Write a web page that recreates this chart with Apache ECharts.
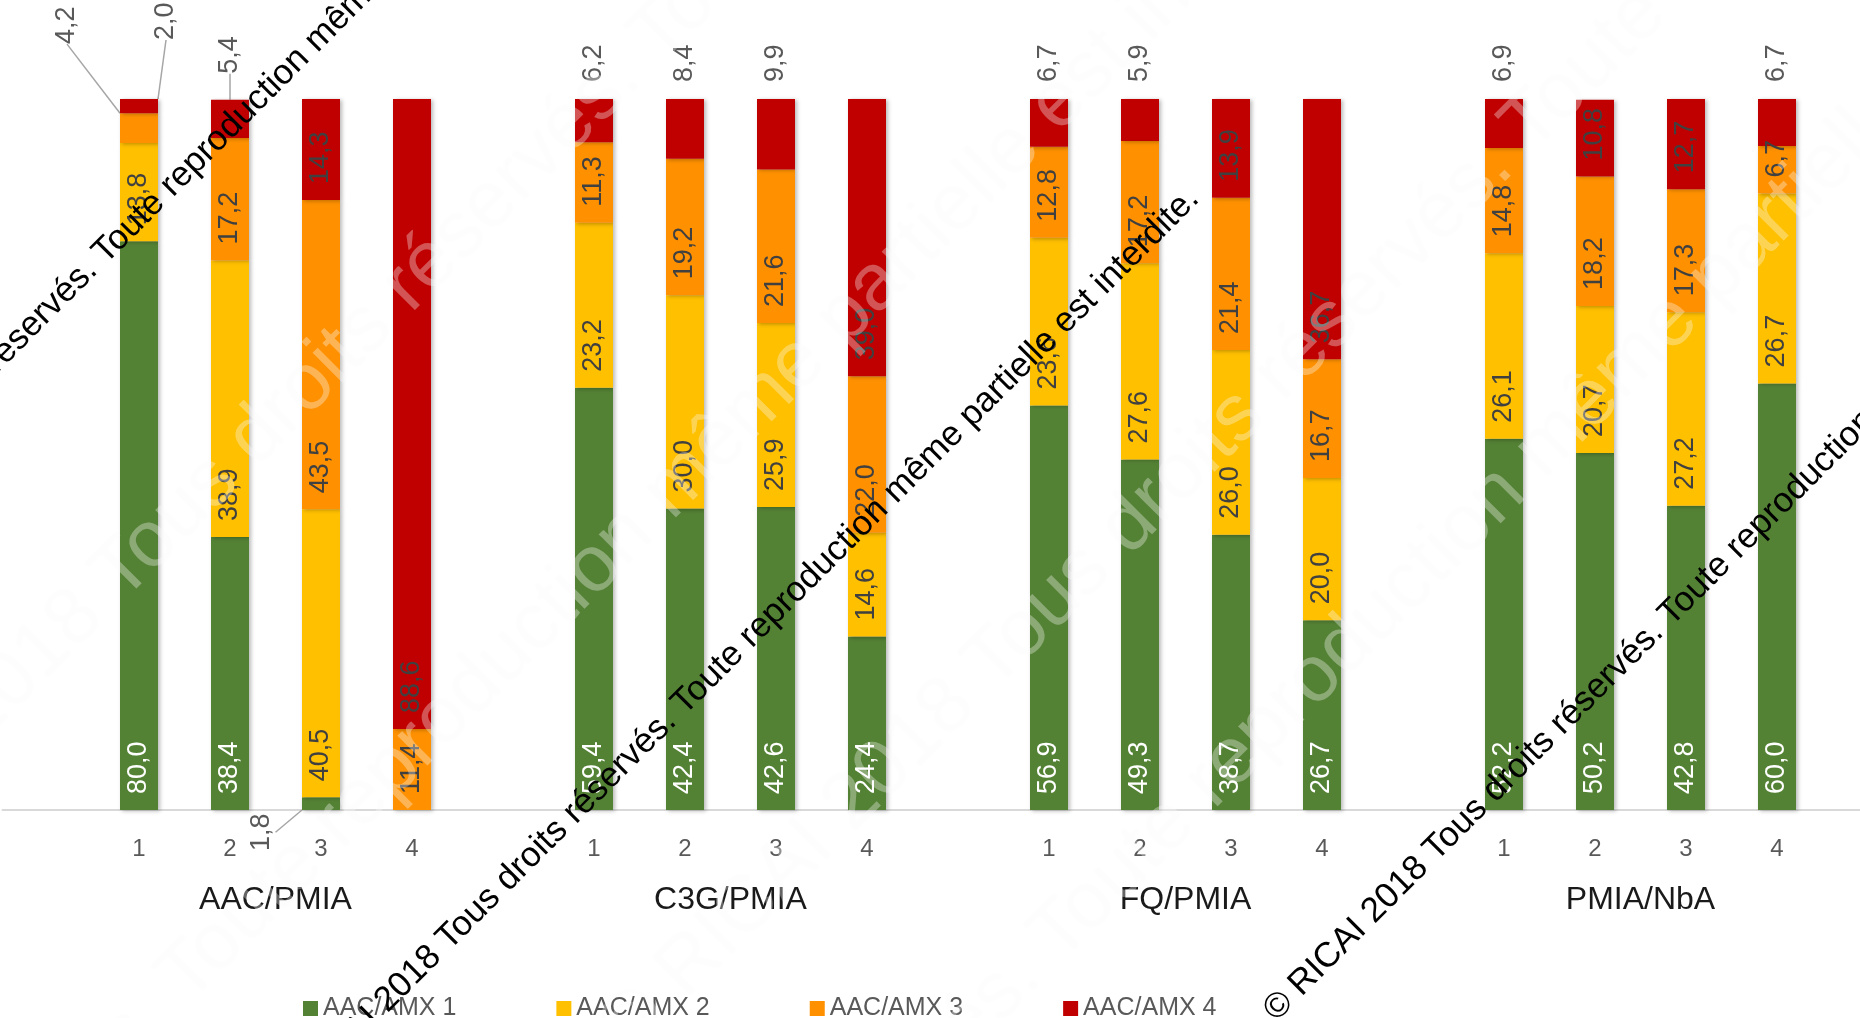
<!DOCTYPE html>
<html>
<head>
<meta charset="utf-8">
<script src="https://cdn.jsdelivr.net/npm/echarts@6/dist/echarts.min.js"></script>
<style>
  html, body { margin: 0; padding: 0; background: #ffffff; }
  #chart { width: 1860px; height: 1018px; }
</style>
</head>
<body>
<div id="chart"></div>
<script>
// Groups of combinations and their four sub-categories
const groups = ['AAC/PMIA', 'C3G/PMIA', 'FQ/PMIA', 'PMIA/NbA'];
const subCategories = ['1', '2', '3', '4'];
const seriesNames = ['AAC/AMX 1', 'AAC/AMX 2', 'AAC/AMX 3', 'AAC/AMX 4'];

// Percentages, in order: group 1 (1..4), group 2 (1..4), group 3 (1..4), group 4 (1..4)
const amx1 = [80.0, 38.4, 1.8, 0.0,   59.4, 42.4, 42.6, 24.4,   56.9, 49.3, 38.7, 26.7,   52.2, 50.2, 42.8, 60.0];
const amx2 = [13.8, 38.9, 40.5, 0.0,  23.2, 30.0, 25.9, 14.6,   23.6, 27.6, 26.0, 20.0,   26.1, 20.7, 27.2, 26.7];
const amx3 = [4.2, 17.2, 43.5, 11.4,  11.3, 19.2, 21.6, 22.0,   12.8, 17.2, 21.4, 16.7,   14.8, 18.2, 17.3, 6.7];
const amx4 = [2.0, 5.4, 14.3, 88.6,   6.2, 8.4, 9.9, 39.0,      6.7, 5.9, 13.9, 36.7,     6.9, 10.8, 12.7, 6.7];
const seriesValues = [amx1, amx2, amx3, amx4];

const colors = ['#548235', '#FFC000', '#FF9100', '#C00000'];

// Labels pulled away from their segment (screen offsets) and tied back with a guide line
const labelCallouts = [
  { series: 2, group: 0, sub: 0, sx: -72, sy: -83 },
  { series: 3, group: 0, sub: 0, sx: 27, sy: -42 },
  { series: 3, group: 0, sub: 1, sx: 0, sy: -9 },
  { series: 0, group: 0, sub: 2, sx: -59, sy: 57 }
];

const SLOTS_PER_GROUP = subCategories.length + 1;

// Category slots: an empty slot ahead of every group, plus one at the end
const slots = [];
groups.forEach((g, gi) => {
  slots.push('gap' + gi);
  subCategories.forEach(s => slots.push(g + '|' + s));
});
slots.push('gap' + groups.length);

// Boundary axis used only to centre the group names between bars 2 and 3
const boundaries = [];
const boundaryLabels = [];
for (let i = 0; i <= slots.length; i++) { boundaries.push('b' + i); boundaryLabels.push(''); }
groups.forEach((g, gi) => { boundaryLabels[gi * SLOTS_PER_GROUP + 3] = g; });

const slotIndex = (gi, si) => gi * SLOTS_PER_GROUP + 1 + si;
const fmt = v => v.toFixed(1).replace('.', ',');

function findCallout(series, dataIndex) {
  return labelCallouts.find(c => c.series === series && slotIndex(c.group, c.sub) === dataIndex);
}

function buildData(seriesIdx) {
  const arr = new Array(slots.length).fill(null);
  const vals = seriesValues[seriesIdx];
  groups.forEach((g, gi) => {
    subCategories.forEach((s, si) => {
      const v = vals[gi * subCategories.length + si];
      const idx = slotIndex(gi, si);
      const item = { value: v };
      if (v === 0) {
        item.label = { show: false };
      } else if (seriesIdx === 3 && v < 10) {
        item.label = { position: 'top', distance: 17, color: '#595959' };
      }
      if (findCallout(seriesIdx, idx)) {
        item.labelLine = { show: true };
        item.label = Object.assign({}, item.label || {}, { color: '#595959' });
      }
      arr[idx] = item;
    });
  });
  return arr;
}

const series = seriesNames.map((name, i) => ({
  name: name,
  type: 'bar',
  stack: 'total',
  barWidth: 38,
  data: buildData(i),
  itemStyle: {
    color: colors[i],
    shadowBlur: 4,
    shadowColor: 'rgba(0,0,0,0.28)',
    shadowOffsetX: 1.5,
    shadowOffsetY: 1
  },
  label: {
    show: true,
    position: 'insideBottom',
    distance: 16,
    rotate: 90,
    align: 'left',
    verticalAlign: 'middle',
    fontFamily: 'Liberation Sans',
    fontSize: 27,
    color: i === 0 ? '#ffffff' : '#404040',
    formatter: p => fmt(p.value)
  },
  labelLine: {
    show: false,
    lineStyle: { color: '#a6a6a6', width: 1.5 }
  },
  // label offsets act in the rotated label frame, so turn screen offsets by 90 degrees
  labelLayout: params => {
    const c = findCallout(params.seriesIndex, params.dataIndex);
    return c ? { dx: -c.sy, dy: c.sx } : {};
  }
}));

// Copyright notice drawn diagonally across the chart
const NOTICE = '\u00a9 RICAI 2018 Tous droits r\u00e9serv\u00e9s. Toute reproduction m\u00eame partielle est interdite.';
const measureCtx = document.createElement('canvas').getContext('2d');

function diagonalNotice(font, anchorWord, ax, ay, style, z) {
  measureCtx.font = font;
  const pos = NOTICE.indexOf(anchorWord);
  const along = measureCtx.measureText(NOTICE.slice(0, pos)).width +
                measureCtx.measureText(anchorWord).width / 2;
  const c = Math.SQRT1_2;
  return {
    type: 'text',
    x: ax - along * c,
    y: ay + along * c,
    rotation: Math.PI / 4,
    silent: true,
    z: z,
    style: Object.assign({
      text: NOTICE,
      font: font,
      align: 'left',
      verticalAlign: 'middle',
      textAlign: 'left',
      textVerticalAlign: 'middle'
    }, style)
  };
}

const bigFont = '80px "Liberation Sans"';
const bigStyle = { fill: 'rgba(255,255,255,0.33)', textShadowColor: 'rgba(0,0,0,0.035)', textShadowBlur: 3 };
const smallFont = '35px "Liberation Sans"';
const smallStyle = { fill: '#000000' };

const graphics = [
  diagonalNotice(bigFont, 'Tous', 166, 528, bigStyle, 50),
  diagonalNotice(bigFont, 'm\u00eame', 735, 427, bigStyle, 50),
  diagonalNotice(bigFont, 'Tous', 1038, 617, bigStyle, 50),
  diagonalNotice(bigFont, 'm\u00eame', 1607, 386, bigStyle, 50),
  diagonalNotice(smallFont, 'Toute', 129, 228, smallStyle, 60),
  diagonalNotice(smallFont, 'Toute', 708, 679, smallStyle, 60),
  diagonalNotice(smallFont, 'Toute', 1695, 590, smallStyle, 60)
];

const chart = echarts.init(document.getElementById('chart'), null, { renderer: 'canvas' });
chart.setOption({
  animation: false,
  backgroundColor: '#ffffff',
  textStyle: { fontFamily: 'Liberation Sans' },
  grid: { left: 2.5, top: 99, width: 1911, height: 711, containLabel: false, outerBoundsMode: 'none' },
  legend: {
    data: seriesNames,
    left: 298,
    top: 991,
    icon: 'rect',
    itemWidth: 15,
    itemHeight: 15,
    itemGap: 100,
    textStyle: { fontSize: 25, color: '#595959', fontFamily: 'Liberation Sans' }
  },
  xAxis: [
    {
      type: 'category',
      data: slots,
      position: 'bottom',
      axisLine: { show: true, lineStyle: { color: '#d9d9d9', width: 2 } },
      axisTick: { show: false },
      axisLabel: {
        interval: 0,
        margin: 27,
        fontSize: 24,
        color: '#595959',
        formatter: v => v.split('|')[1] || ''
      }
    },
    {
      type: 'category',
      data: boundaries,
      position: 'bottom',
      boundaryGap: false,
      axisLine: { show: false },
      axisTick: { show: false },
      splitLine: { show: false },
      axisLabel: {
        interval: 0,
        margin: 74,
        fontSize: 32,
        color: '#1a1a1a',
        formatter: (v, i) => boundaryLabels[i]
      }
    }
  ],
  yAxis: { type: 'value', min: 0, max: 100, show: false },
  series: series,
  graphic: graphics
});
</script>
</body>
</html>
